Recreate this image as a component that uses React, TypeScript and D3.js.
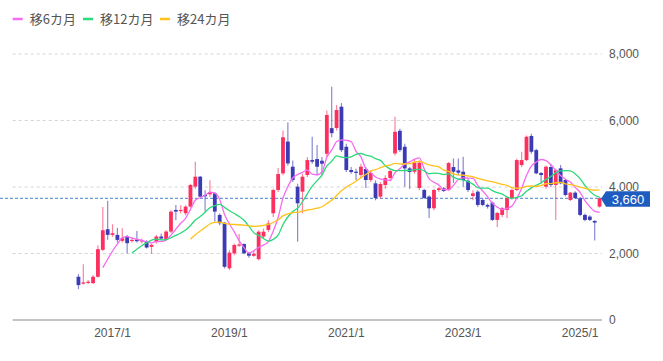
import React from 'react';
import * as d3 from 'd3';

const W = 663;
const H = 361;

// axis window: 2015/5 .. 2025/5 (monthly), data starts 2016/6
const axisMonths: string[] = [];
for (let y = 2015; y <= 2025; y++) {
  for (let m = 1; m <= 12; m++) {
    if ((y === 2015 && m < 5) || (y === 2025 && m > 5)) continue;
    axisMonths.push(`${y}/${m}`);
  }
}
const firstMonthIdx = axisMonths.indexOf('2016/6');

const opens = [
  1300, 1100, 1120, 1110, 1300, 2110, 2730, 2560, 2560, 2380, 2510, 2380, 2420, 2360, 2360, 2200,
  2360, 2510, 2410, 2660, 3310, 3280, 3210, 3410, 4010, 4310, 3760, 3780, 3810, 3160, 2925, 1555,
  2005, 2240, 2285, 2005, 1930, 1830, 2510, 2710, 3210, 3910, 4410, 5365, 4610, 4010, 3860, 4360,
  4810, 4840, 4790, 5000, 5770, 5775, 6415, 5210, 4510, 4460, 4360, 4540, 4210, 4110, 3710, 4060,
  4270, 5010, 5690, 5210, 4560, 4460, 3970, 3910, 3710, 3360, 3910, 3960, 3910, 4600, 4500, 4460,
  4190, 3730, 3860, 3610, 3460, 3530, 3010, 3160, 3310, 3670, 3910, 4660, 4810, 5535, 5110, 4420,
  4010, 4600, 4060, 4560, 4210, 3610, 3830, 3660, 3160, 3110, 2980, 3410,
];
const highs = [
  1380, 1680, 1200, 1350, 2250, 3400, 3590, 2880, 2770, 2760, 2560, 2500, 2680, 2450, 2400, 2300,
  2560, 2600, 2700, 3300, 3460, 3450, 3450, 4100, 4760, 4330, 3900, 4200, 3850, 3200, 2950, 2100,
  2300, 2590, 2300, 2050, 2100, 2700, 2750, 3000, 3950, 4570, 5700, 5940, 4800, 4100, 4400, 4900,
  5510, 5260, 4900, 6300, 7015, 6465, 6525, 5300, 4600, 4550, 4700, 4600, 4500, 4200, 4150, 4350,
  4550, 6115, 5750, 5300, 4600, 4850, 4800, 3950, 3750, 3950, 4000, 4000, 4750, 4860, 4860, 4910,
  4250, 3900, 3900, 3650, 3500, 3560, 3250, 3400, 3700, 3950, 4850, 5060, 5550, 5600, 5150, 4450,
  4650, 4700, 4550, 4660, 4250, 3850, 3870, 3700, 3200, 3150, 3000, 3700,
];
const lows = [
  930, 1060, 1080, 1080, 1270, 2070, 2410, 2500, 2330, 2330, 2000, 2330, 2330, 2300, 2150, 1990,
  2300, 2420, 2380, 2620, 3000, 3200, 3150, 3380, 3950, 3700, 3260, 3700, 2960, 2850, 1550, 1500,
  1950, 2200, 1980, 1870, 1900, 1800, 2450, 2650, 3100, 3850, 4350, 4650, 4150, 2355, 3210, 4300,
  4700, 4350, 4350, 4900, 5500, 5700, 5050, 4450, 4400, 4210, 4300, 3970, 4150, 3600, 3650, 3950,
  4200, 4950, 5050, 4010, 3950, 4400, 3900, 3650, 3070, 3300, 3850, 3850, 3880, 4120, 4350, 4010,
  3850, 3600, 3400, 3420, 3350, 2980, 2800, 3100, 3060, 3620, 3880, 4600, 4780, 5000, 4380, 4100,
  3950, 4000, 3010, 4080, 3720, 3580, 3640, 3120, 2970, 2980, 2390, 3380,
];
const closes = [
  1050, 1130, 1150, 1300, 2130, 2700, 2560, 2610, 2410, 2460, 2310, 2410, 2370, 2400, 2180, 2260,
  2510, 2450, 2660, 3260, 3260, 3310, 3410, 4060, 4310, 3710, 3720, 3850, 3260, 2910, 1600, 2025,
  2255, 2270, 2005, 1935, 1990, 2655, 2655, 2905, 3910, 4390, 5495, 4710, 4210, 3510, 4310, 4810,
  4760, 4610, 4700, 6165, 5620, 6315, 5110, 4510, 4450, 4430, 4610, 4210, 4420, 3670, 4090, 4270,
  4480, 5660, 5110, 4560, 4450, 4730, 4730, 3670, 3360, 3910, 3960, 3880, 4720, 4460, 4430, 4210,
  3910, 3810, 3460, 3460, 3410, 3010, 3220, 3360, 3670, 3910, 4810, 4810, 5510, 5060, 4410, 4360,
  4610, 4060, 4510, 4110, 3760, 3830, 3670, 3160, 3010, 3010, 2930, 3660,
];

const yTicks = [0, 2000, 4000, 6000, 8000];
const xTickLabels = ['2017/1', '2019/1', '2021/1', '2023/1', '2025/1'];
const lastPrice = 3660;

const maDefs = [
  { label: '移6カ月', n: 6, color: '#f56cf2' },
  { label: '移12カ月', n: 12, color: '#2bd97a' },
  { label: '移24カ月', n: 24, color: '#ffc21a' },
];

const UP = '#fc2f5e';
const DOWN = '#3b3bb5';

function movingAvg(vals: number[], n: number) {
  return vals.map((_, i) => {
    if (i < n - 1) return null;
    let s = 0;
    for (let k = i - n + 1; k <= i; k++) s += vals[k];
    return s / n;
  });
}

const fmt = d3.format(',');

export default function App() {
  const x = d3.scaleBand<string>().domain(axisMonths).range([12.7, 602]).paddingInner(0.22).paddingOuter(0.11);
  const y = d3.scaleLinear().domain([0, 8000]).range([320, 54]);
  const bw = x.bandwidth();
  const cx = (i: number) => (x(axisMonths[firstMonthIdx + i]) ?? 0) + bw / 2;

  const candles = closes.map((c, i) => ({ o: opens[i], h: highs[i], l: lows[i], c, i }));

  const lines = maDefs.map((def) => {
    const ma = movingAvg(closes, def.n);
    const gen = d3
      .line<number | null>()
      .defined((d) => d !== null)
      .x((_, i) => cx(i))
      .y((d) => y(d as number))
      .curve(d3.curveMonotoneX);
    return { ...def, d: gen(ma) || '' };
  });

  const legendX = [12.7, 83, 160];
  const lpY = y(lastPrice);

  return (
    <svg width={W} height={H} style={{ position: 'absolute', left: 0, top: 0, background: '#fff' }}
      fontFamily="'Liberation Sans', Arial, sans-serif">
      {/* legend */}
      {lines.map((l, k) => (
        <g key={l.label} transform={`translate(${legendX[k]},19)`}>
          <line x1={0} x2={10} y1={0} y2={0} stroke={l.color} strokeWidth={2.5} />
          <text x={17} y={5} fontSize={13} fill="#555" fontFamily="'Noto Sans CJK JP', sans-serif">{l.label}</text>
        </g>
      ))}

      {/* grid */}
      {yTicks.filter((t) => t > 0).map((t) => (
        <line key={t} x1={12.7} x2={602} y1={y(t)} y2={y(t)} stroke="#d4d4d4" strokeDasharray="3,3" />
      ))}
      <line x1={12.7} x2={602} y1={y(0)} y2={y(0)} stroke="#8a8a8a" strokeWidth={1.2} />

      {/* y labels */}
      {yTicks.map((t) => (
        <text key={t} x={609} y={y(t) + 4} fontSize={12} fill="#555">{fmt(t)}</text>
      ))}

      {/* x labels */}
      {xTickLabels.map((t) => (
        <text key={t} x={(x(t) ?? 0) + bw / 2} y={337} fontSize={12} fill="#555" textAnchor="middle">{t}</text>
      ))}

      {/* last price line */}
      <line x1={0} x2={602} y1={lpY} y2={lpY} stroke="#6a9ad8" strokeDasharray="3,2" strokeWidth={1.2} />

      {/* candles */}
      {candles.map((d) => {
        const col = d.c >= d.o ? UP : DOWN;
        const top = y(Math.max(d.o, d.c));
        const bot = y(Math.min(d.o, d.c));
        return (
          <g key={d.i}>
            <line x1={cx(d.i)} x2={cx(d.i)} y1={y(d.h)} y2={y(d.l)} stroke={col} strokeOpacity={0.6} strokeWidth={1.2} />
            <rect x={cx(d.i) - bw / 2} y={top} width={bw} height={Math.max(bot - top, 1.2)} fill={col} />
          </g>
        );
      })}

      {/* moving averages */}
      {lines.map((l) => (
        <path key={l.label} d={l.d} fill="none" stroke={l.color} strokeWidth={1.3} />
      ))}

      {/* last price tag */}
      <path d={`M601,${lpY + 0.5} L606,${lpY - 7} H650 V${lpY + 8.5} H606 Z`} fill="#1f5cc0" />
      <text x={628} y={lpY + 5.5} fontSize={13} fill="#fff" textAnchor="middle">{fmt(lastPrice)}</text>
    </svg>
  );
}
